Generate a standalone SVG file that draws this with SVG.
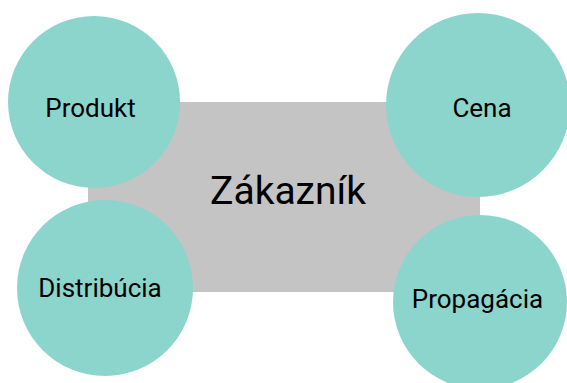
<svg xmlns="http://www.w3.org/2000/svg" width="567" height="383" viewBox="0 0 567 383">
<style>
.c{fill:#8bd5cc}
.t{font-family:Roboto,"Liberation Sans",sans-serif;fill:#000;text-anchor:middle}
.s{font-size:26px}
</style>
<rect width="567" height="383" fill="#fff"/>
<g id="zakaznik">
<rect x="88" y="102" width="392" height="190" fill="#c4c4c4"/>
<text class="t" x="288" y="204" font-size="39">Zákazník</text>
</g>
<g id="produkt">
<circle class="c" cx="94" cy="102" r="86"/>
<text class="t s" x="90.5" y="117">Produkt</text>
</g>
<g id="cena">
<circle class="c" cx="478" cy="105" r="92"/>
<text class="t s" x="482" y="117">Cena</text>
</g>
<g id="distribucia">
<circle class="c" cx="105" cy="288" r="88"/>
<text class="t s" x="100" y="297">Distribúcia</text>
</g>
<g id="propagacia">
<circle class="c" cx="480" cy="302" r="87"/>
<text class="t s" x="477.5" y="308">Propagácia</text>
</g>
<g id="connectors"/>
</svg>
